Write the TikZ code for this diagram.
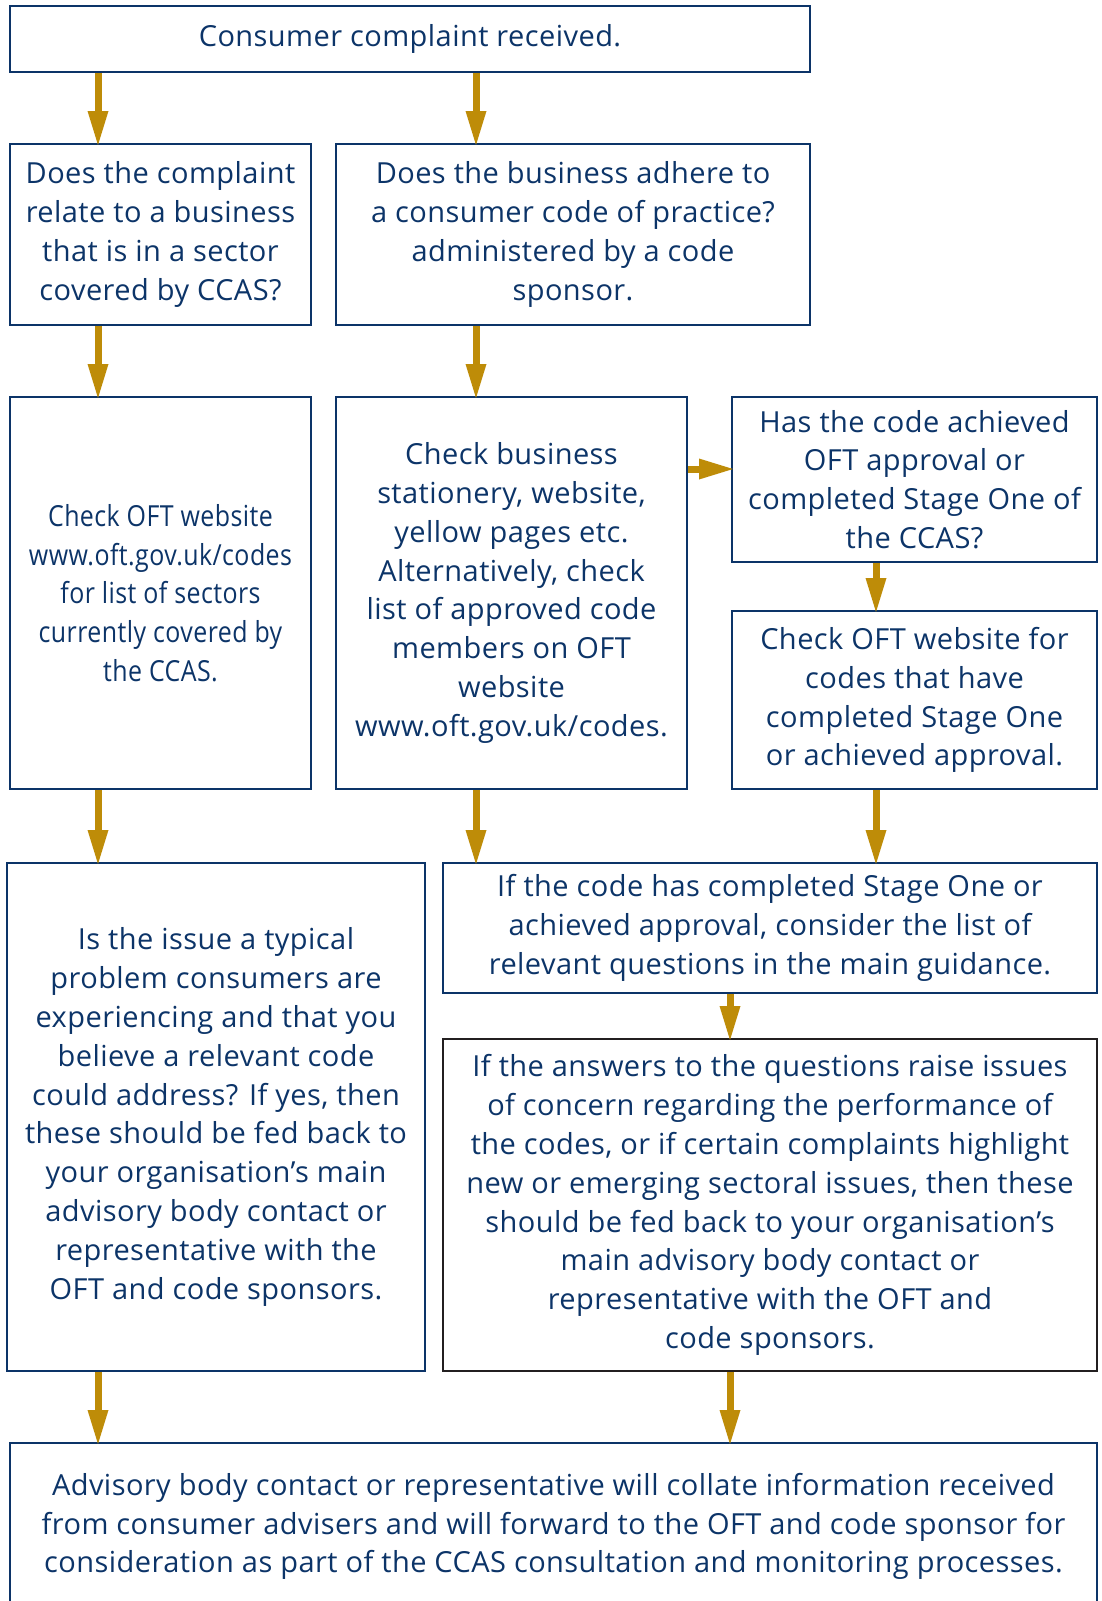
\documentclass[tikz,border=0pt]{standalone}
\usepackage{fontspec}
\setmainfont[LetterSpace=1.5]{Open Sans}
\newfontfamily\narrowfont[FakeStretch=0.86, LetterSpace=1.5]{Open Sans}
\usetikzlibrary{arrows.meta}
\definecolor{oftblue}{RGB}{12,52,104}
\definecolor{oftgold}{RGB}{190,140,8}
\definecolor{oftdark}{RGB}{35,31,32}

\begin{document}
\begin{tikzpicture}[x=1pt, y=-1pt,
		box/.style={draw=oftblue, line width=2pt, text=oftblue, align=center, inner sep=0pt,
			font=\fontsize{29}{38.8}\selectfont},
		flow/.style={draw=oftgold, line width=7pt, shorten >=-2pt, -{Triangle[width=21pt, length=34pt, line width=0pt]}}]
		\useasboundingbox (0,0) rectangle (1101,1601);

		\node[box, minimum width=800, minimum height=66] (start) at (410,39) {Consumer complaint received.};

		\node[box, minimum width=301, minimum height=181] (q-1-A) at (160.5,234.5)
			{Does the complaint\\relate to a business\\that is in a sector\\covered by CCAS?};
		\node[box, minimum width=474, minimum height=181] (q-1-B) at (573,234.5)
			{Does the business adhere to\\a consumer code of practice?\\administered by a code\\sponsor.};

		\node[box, minimum width=301, minimum height=392] (c-2-A) at (160.5,593)
			{\narrowfont Check OFT website\\\narrowfont www.oft.gov.uk/codes\\\narrowfont for list of sectors\\\narrowfont currently covered by\\\narrowfont the CCAS.};
		\node[box, minimum width=351, minimum height=392] (c-2-B) at (511.5,593)
			{Check business\\stationery, website,\\yellow pages etc.\\Alternatively, check\\list of approved code\\members on OFT\\website\\www.oft.gov.uk/codes.};
		\node[box, minimum width=365, minimum height=165] (c-2-C) at (914.5,479.5)
			{Has the code achieved\\OFT approval or\\completed Stage One of\\the CCAS?};
		\node[box, minimum width=365, minimum height=178] (c-3-C) at (914.5,700)
			{Check OFT website for\\codes that have\\completed Stage One\\or achieved approval.};

		\node[box, minimum width=418, minimum height=508] (d-4-A) at (216,1117)
			{Is the issue a typical\\problem consumers are\\experiencing and that you\\believe a relevant code\\could address? If yes, then\\these should be fed back to\\your organisation’s main\\advisory body contact or\\representative with the\\OFT and code sponsors.};
		\node[box, minimum width=654, minimum height=130] (d-4-B) at (770,928)
			{If the code has completed Stage One or\\achieved approval, consider the list of\\relevant questions in the main guidance.};
		\node[box, draw=oftdark, minimum width=654, minimum height=332] (d-5-B) at (770,1205)
			{If the answers to the questions raise issues\\of concern regarding the performance of\\the codes, or if certain complaints highlight\\new or emerging sectoral issues, then these\\should be fed back to your organisation’s\\main advisory body contact or\\representative with the OFT and\\code sponsors.};

		\node[box, minimum width=1087, minimum height=167] (end) at (553.5,1526.5)
			{Advisory body contact or representative will collate information received\\from consumer advisers and will forward to the OFT and code sponsor for\\consideration as part of the CCAS consultation and monitoring processes.};

		\coordinate (x-A) at (98,0);
		\coordinate (x-B) at (476,0);
		\coordinate (x-C) at (876,0);
		\coordinate (x-D) at (730,0);
		\coordinate (y-side) at (0,469);

		\draw[flow] (start.south -| x-A) -- (q-1-A.north -| x-A);
		\draw[flow] (start.south -| x-B) -- (q-1-B.north -| x-B);
		\draw[flow] (q-1-A.south -| x-A) -- (c-2-A.north -| x-A);
		\draw[flow] (q-1-B.south -| x-B) -- (c-2-B.north -| x-B);
		\draw[flow] (c-2-B.east |- y-side) -- (c-2-C.west |- y-side);
		\draw[flow] (c-2-C.south -| x-C) -- (c-3-C.north -| x-C);
		\draw[flow] (c-2-A.south -| x-A) -- (d-4-A.north -| x-A);
		\draw[flow] (c-2-B.south -| x-B) -- (d-4-B.north -| x-B);
		\draw[flow] (c-3-C.south -| x-C) -- (d-4-B.north -| x-C);
		\draw[flow] (d-4-B.south -| x-D) -- (d-5-B.north -| x-D);
		\draw[flow] (d-4-A.south -| x-A) -- (end.north -| x-A);
		\draw[flow] (d-5-B.south -| x-D) -- (end.north -| x-D);
	\end{tikzpicture}
\end{document}
